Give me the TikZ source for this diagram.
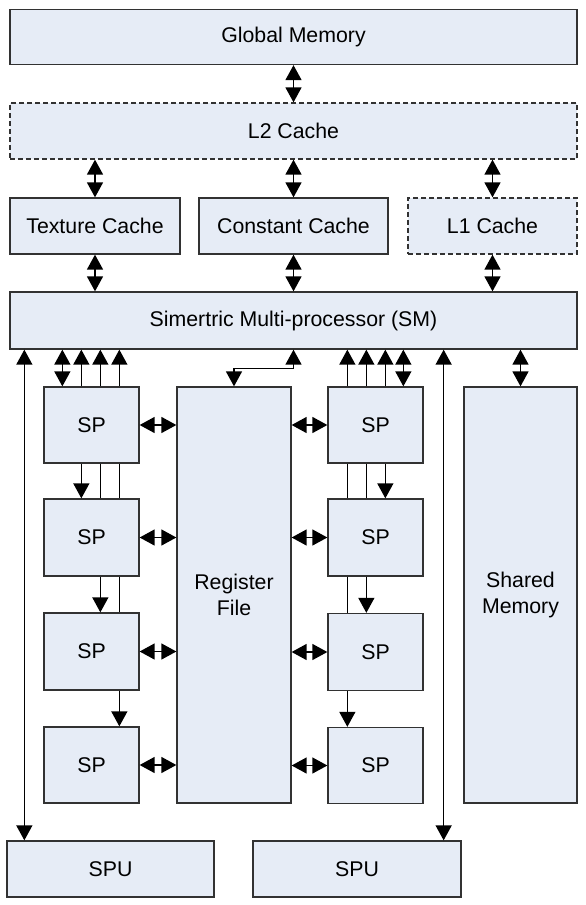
\documentclass[tikz,border=0pt]{standalone}
\usepackage{fontspec}
\setmainfont{Liberation Sans}
\usetikzlibrary{arrows.meta}
\definecolor{boxfill}{RGB}{230,236,246}
\definecolor{boxline}{RGB}{50,50,50}
\begin{document}
\begin{tikzpicture}[x=1pt,y=-1pt,
 blk/.style={draw=boxline,line width=1.3pt,fill=boxfill,inner sep=0pt,align=center,font=\fontsize{21.3}{25.5}\selectfont},
 dblk/.style={blk,dash pattern=on 5pt off 3pt},
 arr/.style={line width=1.4pt,-{Triangle[length=15pt,width=16pt]}},
 dcon/.style={line width=1.4pt,{Triangle[length=15pt,width=16pt]}-{Triangle[length=15pt,width=16pt]}},
 pl/.style={line width=1.4pt}
]
\useasboundingbox (0,0) rectangle (586,905);

% top boxes
\node[blk,minimum width=567pt,minimum height=55pt] (gm) at (293.5,37) {Global Memory};
\node[dblk,minimum width=567pt,minimum height=56pt] (l2) at (293.5,131) {L2 Cache};
\node[blk,minimum width=170pt,minimum height=56pt] (tex) at (95,226) {Texture Cache};
\node[blk,minimum width=189pt,minimum height=56pt] (cst) at (293.5,226) {Constant Cache};
\node[dblk,minimum width=169pt,minimum height=56pt] (l1) at (492.5,226) {L1 Cache};
\node[blk,minimum width=567pt,minimum height=57pt] (sm) at (293.5,320.5) {Simertric Multi-processor (SM)};

% SPs left
\node[blk,minimum width=95pt,minimum height=76pt] (spL1) at (91.5,425) {SP};
\node[blk,minimum width=95pt,minimum height=77pt] (spL2) at (91.5,537.5) {SP};
\node[blk,minimum width=95pt,minimum height=77pt] (spL3) at (91.5,651.5) {SP};
\node[blk,minimum width=95pt,minimum height=76pt] (spL4) at (91.5,765) {SP};
% register file
\node[blk,minimum width=114pt,minimum height=416pt] (rf) at (234,595) {Register\\File};
% SPs right
\node[blk,minimum width=95pt,minimum height=76pt] (spR1) at (375.5,425) {SP};
\node[blk,minimum width=95pt,minimum height=77pt] (spR2) at (375.5,537.5) {SP};
\node[blk,minimum width=95pt,minimum height=77pt] (spR3) at (375.5,652) {SP};
\node[blk,minimum width=95pt,minimum height=76pt] (spR4) at (375.5,765.5) {SP};
% shared memory
\node[blk,minimum width=113pt,minimum height=416pt] (shm) at (520.5,595) {Shared\\Memory};
% SPUs
\node[blk,minimum width=207pt,minimum height=56pt] (spu1) at (110.5,869) {SPU};
\node[blk,minimum width=208pt,minimum height=56pt] (spu2) at (357,869) {SPU};

% top connectors
\draw[dcon] (gm.south) -- (l2.north);
\draw[dcon] (l2.south -| tex.south) -- (tex.north);
\draw[dcon] (l2.south -| cst.south) -- (cst.north);
\draw[dcon] (l2.south -| l1.south) -- (l1.north);
\draw[dcon] (tex.south) -- (sm.north -| tex.north);
\draw[dcon] (cst.south) -- (sm.north -| cst.north);
\draw[dcon] (l1.south) -- (sm.north -| l1.north);

% column coordinates
\coordinate (cL1) at ([xshift=19pt]spL1.north west);
\coordinate (cL2) at ([xshift=38pt]spL1.north west);
\coordinate (cL3) at ([xshift=57pt]spL1.north west);
\coordinate (cL4) at ([xshift=76pt]spL1.north west);
\coordinate (cR1) at ([xshift=20pt]spR1.north west);
\coordinate (cR2) at ([xshift=39pt]spR1.north west);
\coordinate (cR3) at ([xshift=58pt]spR1.north west);
\coordinate (cR4) at ([xshift=76pt]spR1.north west);
\coordinate (vL) at ([xshift=18pt]spu1.north west);
\coordinate (vR) at ([xshift=-18pt]spu2.north east);

% SM to SPUs
\draw[dcon] (sm.south -| vL) -- (vL);
\draw[dcon] (sm.south -| vR) -- (vR);

% left SP column to SM
\draw[dcon] (sm.south -| cL1) -- (cL1);
\foreach \c in {cL2,cL3,cL4} \draw[arr] (\c) -- (sm.south -| \c);
% right SP column to SM
\draw[dcon] (sm.south -| cR4) -- (cR4);
\foreach \c in {cR1,cR2,cR3} \draw[arr] (\c) -- (sm.south -| \c);

% left chain
\draw[arr] (cL2 |- spL1.south) -- (cL2 |- spL2.north);
\draw[pl] (cL3 |- spL1.south) -- (cL3 |- spL2.north);
\draw[pl] (cL4 |- spL1.south) -- (cL4 |- spL2.north);
\draw[arr] (cL3 |- spL2.south) -- (cL3 |- spL3.north);
\draw[pl] (cL4 |- spL2.south) -- (cL4 |- spL3.north);
\draw[arr] (cL4 |- spL3.south) -- (cL4 |- spL4.north);
% right chain
\draw[pl] (cR1 |- spR1.south) -- (cR1 |- spR2.north);
\draw[pl] (cR2 |- spR1.south) -- (cR2 |- spR2.north);
\draw[arr] (cR3 |- spR1.south) -- (cR3 |- spR2.north);
\draw[pl] (cR1 |- spR2.south) -- (cR1 |- spR3.north);
\draw[arr] (cR2 |- spR2.south) -- (cR2 |- spR3.north);
\draw[arr] (cR1 |- spR3.south) -- (cR1 |- spR4.north);

% SP <-> register file
\foreach \s in {spL1,spL2,spL3,spL4} \draw[dcon] (\s.east) -- (\s.east -| rf.west);
\foreach \s in {spR1,spR2,spR3,spR4} \draw[dcon] (\s.west) -- (\s.west -| rf.east);

% register file <-> SM
\draw[dcon] (rf.north) -- ++(0,-18) -| (sm.south);
% shared memory <-> SM
\draw[dcon] (sm.south -| shm.north) -- (shm.north);
\end{tikzpicture}
\end{document}
